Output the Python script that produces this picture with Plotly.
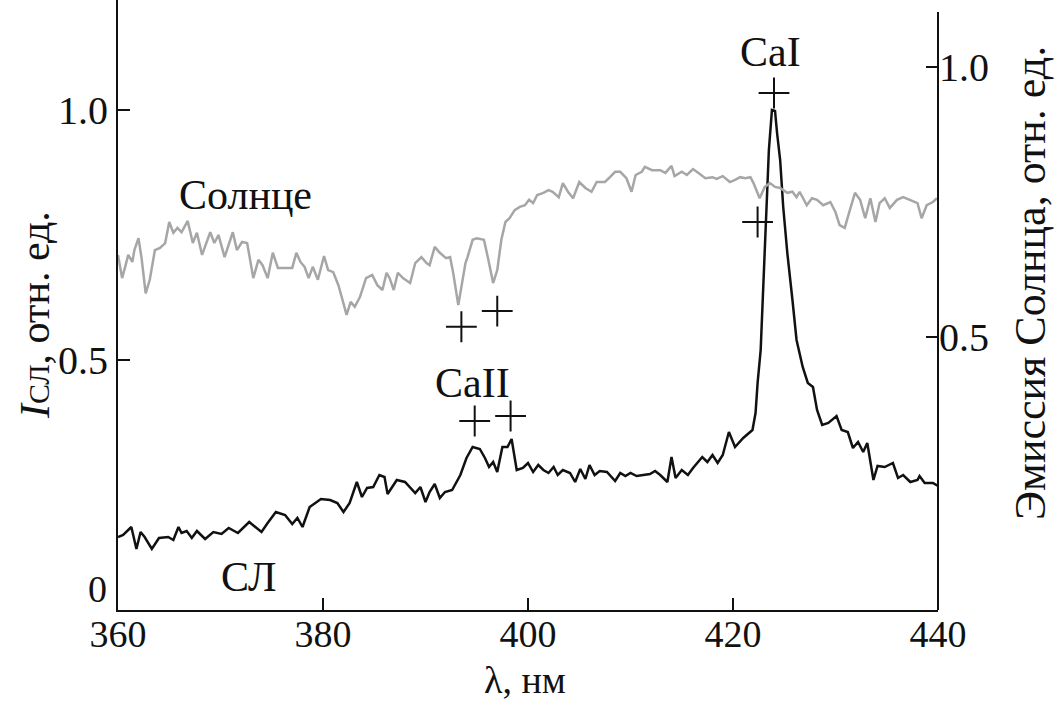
import plotly.graph_objects as go

# CL (black) spectrum: wavelength (nm) and intensity (left axis, rel. units)
cl_wl = [360.0, 360.5, 361.3, 361.8, 362.2, 362.6, 363.3, 364.0, 364.9, 365.4, 365.9, 366.2, 366.7, 367.2,
         367.7, 368.5, 369.3, 370.1, 370.8, 371.7, 372.8, 374.0, 374.6, 375.4, 376.3, 377.0, 377.5, 378.0,
         378.7, 379.8, 380.7, 381.4, 382.0, 382.6, 383.3, 383.8, 384.3, 384.9, 385.5, 386.0, 386.3, 387.2,
         388.0, 389.0, 389.5, 390.0, 390.4, 390.9, 391.4, 391.9, 392.6, 393.4, 394.0, 394.6, 395.3, 395.8,
         396.2, 396.6, 397.0, 397.5, 398.0, 398.4, 398.9, 399.5, 400.0, 400.5, 401.0, 401.5, 402.0, 402.5,
         402.9, 403.4, 404.1, 404.6, 405.1, 405.6, 406.0, 406.5, 407.0, 407.7, 408.5, 409.0, 409.5, 410.0,
         410.6, 411.9, 412.4, 412.9, 413.6, 414.0, 414.4, 415.0, 415.6, 416.1, 417.0, 417.5, 418.0, 418.5,
         419.0, 419.6, 420.2, 421.0, 421.9, 422.2, 422.4, 422.7, 422.9, 423.1, 423.3, 423.5, 423.8, 424.1,
         424.3, 424.6, 424.9, 425.3, 425.8, 426.2, 426.8, 427.3, 427.8, 428.2, 428.7, 429.3, 430.1, 430.6,
         431.2, 431.7, 432.2, 432.7, 433.1, 433.7, 434.1, 434.8, 435.6, 436.1, 436.6, 437.3, 438.0, 438.2,
         438.7, 439.5, 440.0]
cl_int = [0.146, 0.150, 0.166, 0.122, 0.156, 0.146, 0.122, 0.144, 0.146, 0.140, 0.166, 0.154, 0.158, 0.144,
          0.158, 0.142, 0.156, 0.152, 0.164, 0.154, 0.176, 0.156, 0.174, 0.196, 0.190, 0.172, 0.184, 0.166,
          0.206, 0.222, 0.220, 0.214, 0.196, 0.214, 0.256, 0.226, 0.244, 0.246, 0.270, 0.266, 0.232, 0.260,
          0.256, 0.234, 0.246, 0.216, 0.236, 0.252, 0.224, 0.236, 0.240, 0.270, 0.304, 0.326, 0.322, 0.304,
          0.286, 0.296, 0.276, 0.326, 0.326, 0.342, 0.280, 0.284, 0.294, 0.276, 0.290, 0.280, 0.274, 0.286,
          0.270, 0.280, 0.274, 0.256, 0.282, 0.262, 0.290, 0.270, 0.278, 0.276, 0.258, 0.274, 0.268, 0.274,
          0.268, 0.272, 0.278, 0.270, 0.256, 0.306, 0.264, 0.280, 0.270, 0.284, 0.306, 0.296, 0.310, 0.294,
          0.310, 0.356, 0.326, 0.344, 0.360, 0.394, 0.454, 0.520, 0.620, 0.720, 0.820, 0.920, 1.000, 0.998,
          0.954, 0.900, 0.806, 0.714, 0.620, 0.540, 0.486, 0.454, 0.446, 0.400, 0.370, 0.374, 0.388, 0.360,
          0.356, 0.324, 0.336, 0.316, 0.334, 0.260, 0.288, 0.286, 0.294, 0.264, 0.270, 0.256, 0.260, 0.268,
          0.254, 0.254, 0.248]

# Solar (gray) spectrum: wavelength (nm) and emission (right axis, rel. units)
sun_wl = [360.0, 360.4, 360.7, 361.0, 361.4, 361.6, 362.0, 362.3, 362.7, 363.1, 363.6, 364.1, 364.6, 365.0,
          365.4, 365.8, 366.2, 366.8, 367.3, 367.7, 368.2, 368.7, 369.0, 369.4, 369.8, 370.4, 371.2, 371.6,
          372.1, 372.6, 373.2, 373.7, 374.1, 374.6, 375.1, 375.6, 376.3, 377.0, 377.4, 377.8, 378.2, 378.6,
          379.0, 379.5, 380.1, 380.5, 381.0, 381.5, 381.9, 382.3, 382.7, 383.1, 383.6, 384.2, 384.8, 385.3,
          385.8, 386.2, 386.5, 386.9, 387.3, 387.8, 388.5, 389.0, 389.6, 390.1, 390.4, 390.9, 391.4, 392.0,
          392.4, 392.7, 393.2, 393.6, 393.9, 394.1, 394.6, 395.0, 395.7, 396.1, 396.6, 397.0, 397.4, 397.8,
          398.2, 398.7, 399.2, 399.7, 400.1, 400.5, 400.9, 401.5, 402.0, 402.4, 403.0, 403.4, 403.9, 404.4,
          405.0, 405.6, 406.2, 406.7, 407.5, 408.0, 408.5, 409.0, 409.6, 410.1, 410.5, 411.1, 411.4, 412.1,
          412.9, 413.4, 414.0, 414.3, 415.0, 415.5, 416.1, 416.6, 417.3, 418.0, 418.4, 419.0, 419.7, 420.2,
          420.7, 421.2, 421.7, 422.0, 422.6, 423.1, 423.6, 424.1, 424.6, 425.3, 425.8, 426.2, 426.5, 427.2,
          427.7, 428.2, 428.8, 429.5, 430.0, 430.4, 430.9, 431.4, 431.9, 432.4, 432.9, 433.4, 433.9, 434.3,
          434.8, 435.3, 436.0, 436.6, 437.3, 438.0, 438.4, 438.9, 439.5, 439.9]
sun_int = [0.652, 0.609, 0.630, 0.652, 0.639, 0.661, 0.683, 0.646, 0.581, 0.606, 0.661, 0.665, 0.674, 0.713,
           0.693, 0.702, 0.694, 0.715, 0.674, 0.693, 0.652, 0.676, 0.694, 0.674, 0.689, 0.648, 0.694, 0.661,
           0.676, 0.674, 0.609, 0.643, 0.633, 0.609, 0.656, 0.628, 0.628, 0.628, 0.656, 0.639, 0.630, 0.609,
           0.630, 0.606, 0.650, 0.624, 0.620, 0.596, 0.569, 0.541, 0.565, 0.556, 0.574, 0.609, 0.615, 0.596,
           0.587, 0.619, 0.609, 0.587, 0.619, 0.609, 0.600, 0.637, 0.648, 0.637, 0.633, 0.667, 0.656, 0.646,
           0.648, 0.619, 0.559, 0.600, 0.637, 0.648, 0.680, 0.683, 0.680, 0.646, 0.600, 0.624, 0.680, 0.713,
           0.720, 0.735, 0.741, 0.744, 0.754, 0.748, 0.763, 0.767, 0.772, 0.769, 0.759, 0.785, 0.769, 0.757,
           0.787, 0.776, 0.769, 0.787, 0.787, 0.796, 0.806, 0.806, 0.794, 0.769, 0.800, 0.806, 0.815, 0.809,
           0.809, 0.804, 0.817, 0.798, 0.806, 0.800, 0.811, 0.804, 0.794, 0.796, 0.793, 0.798, 0.787, 0.791,
           0.796, 0.794, 0.796, 0.785, 0.757, 0.778, 0.785, 0.778, 0.776, 0.767, 0.769, 0.759, 0.769, 0.744,
           0.757, 0.754, 0.744, 0.750, 0.731, 0.707, 0.702, 0.735, 0.767, 0.754, 0.720, 0.757, 0.713, 0.748,
           0.757, 0.739, 0.754, 0.759, 0.754, 0.748, 0.720, 0.744, 0.750, 0.757]

# Line markers "+" (Ca lines)
cl_mark_wl = [394.8, 398.3, 424.0]
cl_mark_int = [0.378, 0.388, 1.034]
sun_mark_wl = [393.5, 397.0, 422.4]
sun_mark_int = [0.519, 0.548, 0.713]

x_ticks = [360, 380, 400, 420, 440]
left_ticks = [0.5, 1.0]
left_ticklabels = ["0.5", "1.0"]
left_zero_label = "0"
right_ticks = [0.5, 1.0]
right_ticklabels = ["0.5", "1.0"]

FONT = "Liberation Serif, Times New Roman, serif"
INK = "#111111"
fig = go.Figure()

fig.add_trace(go.Scatter(x=sun_wl, y=sun_int, yaxis="y2", mode="lines",
                         line=dict(color="#a6a6a6", width=2.5), showlegend=False, hoverinfo="skip"))
fig.add_trace(go.Scatter(x=cl_wl, y=cl_int, mode="lines",
                         line=dict(color=INK, width=2.5), showlegend=False, hoverinfo="skip"))
fig.add_trace(go.Scatter(x=cl_mark_wl, y=cl_mark_int, mode="markers",
                         marker=dict(symbol="cross-thin", size=22, line=dict(color=INK, width=2)),
                         showlegend=False, hoverinfo="skip"))
fig.add_trace(go.Scatter(x=sun_mark_wl, y=sun_mark_int, yaxis="y2", mode="markers",
                         marker=dict(symbol="cross-thin", size=22, line=dict(color=INK, width=2)),
                         showlegend=False, hoverinfo="skip"))

L, R, T, B = 118, 938, 0, 610
plot_w = R - L
plot_h = B - T


def px(xp):
    return (xp - L) / plot_w


def py(yp):
    return (B - yp) / plot_h


ann_font = dict(family=FONT, size=42, color=INK)
annotations = [
    dict(x=372.4, y=0.83, xref="x", yref="y", text="Солнце", showarrow=False, font=ann_font),
    dict(x=372.7, y=0.066, xref="x", yref="y", text="СЛ", showarrow=False, font=ann_font),
    dict(x=394.6, y=0.454, xref="x", yref="y", text="CaII", showarrow=False, font=ann_font),
    dict(x=423.7, y=1.116, xref="x", yref="y", text="CaI", showarrow=False, font=ann_font),
    dict(x=px(525), y=py(680), xref="paper", yref="paper", text="λ, нм", showarrow=False,
         font=dict(family=FONT, size=38, color=INK), xanchor="center", yanchor="middle", borderpad=0),
    dict(x=px(108), y=py(589), xref="paper", yref="paper", text=left_zero_label, showarrow=False,
         font=dict(family=FONT, size=38, color=INK), xanchor="right", yanchor="middle", borderpad=0),
    dict(x=px(35), y=py(315), xref="paper", yref="paper",
         text="<i>I</i><span style='font-size:30px'>СЛ</span>, отн. ед.",
         textangle=-90, showarrow=False, font=dict(family=FONT, size=42, color=INK),
         xanchor="center", yanchor="middle"),
    dict(x=px(1030), y=py(283), xref="paper", yref="paper",
         text="Эмиссия Солнца, отн. ед.", textangle=-90, showarrow=False,
         font=dict(family=FONT, size=44, color=INK), xanchor="center", yanchor="middle"),
]

tick_font = dict(family=FONT, size=40, color=INK)
fig.update_layout(
    width=1057, height=702,
    margin=dict(l=L, r=1057 - R, t=T, b=702 - B),
    paper_bgcolor="white", plot_bgcolor="white",
    font=dict(family=FONT, size=40, color=INK),
    hovermode=False,
    xaxis=dict(range=[360, 440], tickvals=x_ticks, ticktext=[str(t) for t in x_ticks],
               ticks="inside", ticklen=12, tickwidth=2, tickcolor=INK,
               showline=True, linewidth=2, linecolor=INK, showgrid=False, zeroline=False,
               tickfont=dict(family=FONT, size=38, color=INK), ticklabelstandoff=-11, automargin=False),
    yaxis=dict(range=[0, 1.22], tickvals=left_ticks, ticktext=left_ticklabels,
               ticks="inside", ticklen=12, tickwidth=2, tickcolor=INK,
               showline=True, linewidth=2, linecolor=INK, showgrid=False, zeroline=False,
               tickfont=tick_font, automargin=False),
    yaxis2=dict(range=[-0.00556, 1.1241], overlaying="y", side="right", tickvals=right_ticks,
                ticktext=right_ticklabels, ticks="inside", ticklen=12, tickwidth=2, tickcolor=INK,
                showline=False, showgrid=False, zeroline=False, tickfont=tick_font, automargin=False),
    annotations=annotations,
    shapes=[dict(type="line", xref="paper", yref="paper", x0=1, x1=1, y0=0, y1=py(12),
                 line=dict(color=INK, width=2))],
)

fig.write_html("out.html", config={"displayModeBar": False},
               post_script="document.body.style.margin='0';document.body.style.padding='0';")
